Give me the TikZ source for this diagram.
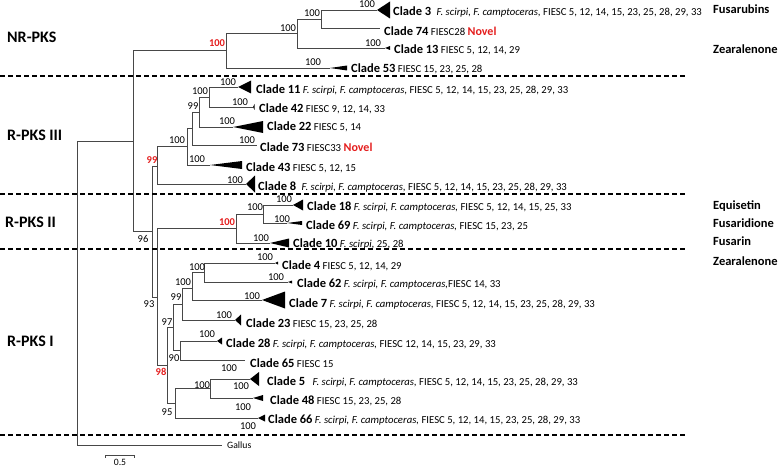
\documentclass[tikz,border=0pt]{standalone}
\usepackage{fontspec}
\setmainfont{Carlito}
\definecolor{redc}{RGB}{228,30,30}
\newcommand\cln[1]{{\fontsize{12.5}{14}\selectfont\bfseries #1}}
\newcommand\spp[1]{{\itshape #1}}
\newcommand\nov{{\fontsize{12}{14}\selectfont\bfseries\color{redc}Novel}}
\begin{document}
\begin{tikzpicture}[x=1pt,y=-1pt,
 br/.style={draw=black!72, line width=0.9pt},
 bs/.style={font=\fontsize{10.5}{12}\selectfont, inner sep=0pt, anchor=center},
 bsred/.style={bs, text=redc, font=\fontsize{10.5}{12}\selectfont\bfseries},
 clab/.style={inner sep=0pt, anchor=base west, font=\fontsize{10.7}{12}\selectfont},
 sect/.style={inner sep=0pt, anchor=base west, font=\fontsize{16}{18}\selectfont\bfseries},
 prod/.style={inner sep=0pt, anchor=base west, font=\fontsize{12.5}{14}\selectfont\bfseries},
 sepline/.style={draw=black, line width=1.3pt, dash pattern=on 5pt off 3pt}]
\useasboundingbox (0,0) rectangle (778,468);
% tree nodes
\coordinate (R) at (77,293);
\coordinate (I) at (133,141);
\coordinate (gal) at (222,445);
\coordinate (N) at (226,50);
\coordinate (N2) at (297,33.5);
\coordinate (N3) at (321,19);
\coordinate (c3) at (377,10);
\coordinate (c74) at (380,28);
\coordinate (c13) at (385,48);
\coordinate (c53) at (330,68);
\coordinate (P96) at (152,231);
\coordinate (NIII) at (157,166);
\coordinate (A) at (187,146);
\coordinate (B) at (192,128);
\coordinate (C) at (199,112);
\coordinate (D) at (209,97);
\coordinate (c11) at (238,87);
\coordinate (c42) at (253,107);
\coordinate (c22) at (233,127);
\coordinate (c73) at (257,145);
\coordinate (c43) at (210,165);
\coordinate (c8) at (246,184);
\coordinate (P93) at (157,297);
\coordinate (NII) at (236,228);
\coordinate (E) at (263,214);
\coordinate (c18) at (293,205);
\coordinate (c69) at (287,223);
\coordinate (c10) at (270,243);
\coordinate (N98) at (167,365);
\coordinate (N97) at (173,327);
\coordinate (N99) at (182,304);
\coordinate (N100b) at (192,288);
\coordinate (N100a) at (204,272);
\coordinate (c4) at (275,263);
\coordinate (c62) at (288,282);
\coordinate (c7) at (262,300);
\coordinate (c23) at (235,320);
\coordinate (N90) at (180,350);
\coordinate (c28) at (217,341);
\coordinate (c65) at (245,360);
\coordinate (N95) at (175,403);
\coordinate (N100c) at (210,388);
\coordinate (c5) at (250,379);
\coordinate (c48) at (253,398);
\coordinate (c66) at (258,418);
% branches
\foreach \a/\b in {R/I,R/gal,I/N,I/P96,N/N2,N/c53,N2/N3,N2/c13,N3/c3,N3/c74,
  P96/NIII,P96/P93,NIII/A,NIII/c8,A/B,A/c43,B/C,B/c73,C/D,C/c22,D/c11,D/c42,
  P93/NII,P93/N98,NII/E,NII/c10,E/c18,E/c69,N98/N97,N98/N95,N97/N99,N97/N90,
  N99/N100b,N99/c23,N100b/N100a,N100b/c7,N100a/c4,N100a/c62,N90/c28,N90/c65,
  N95/N100c,N95/c66,N100c/c5,N100c/c48}
  \draw[br] (\a) |- (\b);
% collapsed clades
\foreach \c/\L/\h in {c3/13/8.5,c13/5/2,c53/17/2.5,c11/13/6.5,c42/1.5/3,c22/30/6,
  c43/32/4,c8/9/8.5,c18/10/5.5,c69/15/2,c10/19/4.5,c4/3/1.5,c62/4/1.5,c7/23/8.5,
  c23/6/5.5,c28/5/3.5,c5/9/7,c48/10/3,c66/7/3.5}
  \fill[black] (\c) -- ++(\L,\h) -- ++(0,{-2*\h}) -- cycle;
% separators
\draw[sepline] (0,76) -- (687,76);
\draw[sepline] (0,194) -- (687,194);
\draw[sepline] (0,249) -- (687,249);
\draw[sepline] (0,435) -- (687,435);
% section labels
\node[sect] (s1) at (7,43) {NR-PKS};
\node[sect] (s2) at (7,140) {R-PKS III};
\node[sect] (s3) at (5,227) {R-PKS II};
\node[sect] (s4) at (7,346) {R-PKS I};
% product labels
\node[prod] (p1) at (713,14) {Fusarubins};
\node[prod] (p2) at (713,53.5) {Zearalenone};
\node[prod] (p3) at (713,209) {Equisetin};
\node[prod] (p4) at (713,227) {Fusaridione};
\node[prod] (p5) at (713,245) {Fusarin};
\node[prod] (p6) at (713,265) {Zearalenone};
% clade labels
\node[clab] (t3) at (393,16) {\cln{Clade 3}\hspace{3pt} \spp{F. scirpi, F. camptoceras,} FIESC 5, 12, 14, 15, 23, 25, 28, 29, 33};
\node[clab] (t74) at (384,36) {\cln{Clade 74} FIESC28 \nov};
\node[clab] (t13) at (394,53.5) {\cln{Clade 13} FIESC 5, 12, 14, 29};
\node[clab] (t53) at (351,73) {\cln{Clade 53} FIESC 15, 23, 25, 28};
\node[clab] (t11) at (256,93.5) {\cln{Clade 11} \spp{F. scirpi, F. camptoceras}, FIESC 5, 12, 14, 15, 23, 25, 28, 29, 33};
\node[clab] (t42) at (259,112.5) {\cln{Clade 42} FIESC 9, 12, 14, 33};
\node[clab] (t22) at (267,131) {\cln{Clade 22} FIESC 5, 14};
\node[clab] (t73) at (260,151) {\cln{Clade 73} FIESC33 \nov};
\node[clab] (t43) at (246,171) {\cln{Clade 43} FIESC 5, 12, 15};
\node[clab] (t8) at (258,190) {\cln{Clade 8}\hspace{3pt} \spp{F. scirpi, F. camptoceras,} FIESC 5, 12, 14, 15, 23, 25, 28, 29, 33};
\node[clab] (t18) at (307,210) {\cln{Clade 18} \spp{F. scirpi, F. camptoceras,} FIESC 5, 12, 14, 15, 25, 33};
\node[clab] (t69) at (306,229) {\cln{Clade 69} \spp{F. scirpi, F. camptoceras,} FIESC 15, 23, 25};
\node[clab] (t10) at (293,247.5) {\cln{Clade 10} \spp{F. scirpi}, 25, 28};
\node[clab] (t4) at (282,269) {\cln{Clade 4} FIESC 5, 12, 14, 29};
\node[clab] (t62) at (297,287.5) {\cln{Clade 62} \spp{F. scirpi, F. camptoceras,}FIESC 14, 33};
\node[clab] (t7) at (289,307.5) {\cln{Clade 7} \spp{F. scirpi, F. camptoceras,} FIESC 5, 12, 14, 15, 23, 25, 28, 29, 33};
\node[clab] (t23) at (246,327) {\cln{Clade 23} FIESC 15, 23, 25, 28};
\node[clab] (t28) at (226,347) {\cln{Clade 28} \spp{F. scirpi, F. camptoceras,} FIESC 12, 14, 15, 23, 29, 33};
\node[clab] (t65) at (250,367) {\cln{Clade 65} FIESC 15};
\node[clab] (t5) at (267,385) {\cln{Clade 5}\hspace{5pt} \spp{F. scirpi, F. camptoceras,} FIESC 5, 12, 14, 15, 23, 25, 28, 29, 33};
\node[clab] (t48) at (270,404) {\cln{Clade 48} FIESC 15, 23, 25, 28};
\node[clab] (t66) at (268,423.5) {\cln{Clade 66} \spp{F. scirpi, F. camptoceras,} FIESC 5, 12, 14, 15, 23, 25, 28, 29, 33};
\node[clab, anchor=west, font=\fontsize{9.7}{11}\selectfont] (tg) at (227,445) {Gallus};
% bootstrap values
\node[bsred] (b1) at (217,43) {100};
\node[bs] (b2) at (288,28) {100};
\node[bs] (b3) at (312,13) {100};
\node[bs] (b4) at (367,4.5) {100};
\node[bs] (b5) at (373,43) {100};
\node[bs] (b6) at (313,62) {100};
\node[bs] (b7) at (143,239) {96};
\node[bsred] (b8) at (152,160) {99};
\node[bs] (b9) at (177,140) {100};
\node[bs] (b10) at (193,106) {99};
\node[bs] (b11) at (200,91) {100};
\node[bs] (b12) at (228,82) {100};
\node[bs] (b13) at (240,102) {100};
\node[bs] (b14) at (227,121) {100};
\node[bs] (b15) at (247,140) {100};
\node[bs] (b16) at (197,159) {100};
\node[bs] (b17) at (235,180) {100};
\node[bsred] (b18) at (227,222) {100};
\node[bs] (b19) at (255,207) {100};
\node[bs] (b20) at (284,199) {100};
\node[bs] (b21) at (282,219) {100};
\node[bs] (b22) at (261,238) {100};
\node[bs] (b23) at (149,304) {93};
\node[bs] (b24) at (197,267) {100};
\node[bs] (b25) at (183,282) {100};
\node[bs] (b26) at (176,297) {99};
\node[bs] (b27) at (265,257) {100};
\node[bs] (b28) at (276,277) {100};
\node[bs] (b29) at (252,296) {100};
\node[bs] (b30) at (167,322) {97};
\node[bs] (b31) at (224,315) {100};
\node[bs] (b32) at (207,334) {100};
\node[bs] (b33) at (174,358) {90};
\node[bs] (b34) at (229,368) {100};
\node[bsred] (b35) at (161,372) {98};
\node[bs] (b36) at (202,385) {100};
\node[bs] (b37) at (241,386) {100};
\node[bs] (b38) at (243,407) {100};
\node[bs] (b39) at (167,412) {95};
\node[bs] (b40) at (248,426) {100};
% scale bar
\coordinate (sa) at (105,455);
\coordinate (sb) at (134,455);
\draw[br] ([yshift=-2.5pt]sa) -- (sa) -- (sb) -- ([yshift=-2.5pt]sb);
\node[bs, font=\fontsize{9.7}{11}\selectfont] (sl) at (120,462) {0.5};
\end{tikzpicture}
\end{document}
